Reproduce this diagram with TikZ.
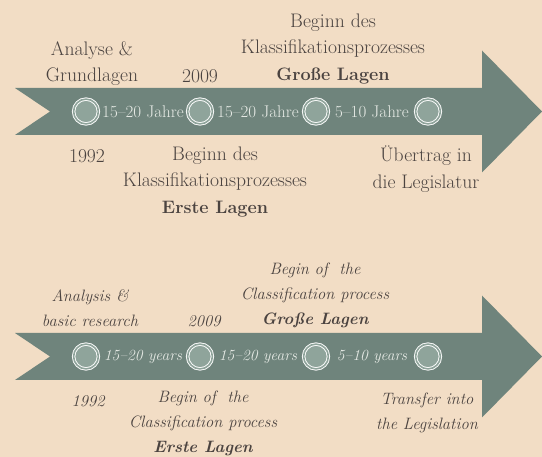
\documentclass[tikz,border=0pt]{standalone}
\usepackage{xcolor}
\usepackage{tikz}
\usetikzlibrary{calc,positioning}
\definecolor{bgbeige}{HTML}{F2DDC5}
\definecolor{arrowgreen}{HTML}{6F847C}
\definecolor{ringfill}{HTML}{8FA49B}
\definecolor{labelgray}{HTML}{4B4340}
\definecolor{barwhite}{HTML}{E6EAE5}
\newcommand{\boldline}[1]{{\fontsize{18}{26}\selectfont\bfseries #1}}
\newcommand{\boldlineit}[1]{{\fontsize{16.5}{25}\selectfont\bfseries #1}}
\tikzset{
  timearrow/.pic={
      \fill[arrowgreen]
      (15,-23.5) -- (482,-23.5) -- (482,-61) -- (542,0) -- (482,61)
      -- (482,23.5) -- (15,23.5) -- (50,0) -- cycle;
      \foreach \Val/\Pos in {1/86,2/200,3/316,4/428}
      \node[milestone] at (\Pos,0) (#1-\Val) {};
    },
  milestone/.style={
      circle,
      minimum size=24.8pt,
      inner sep=0pt,
      fill=ringfill,
      draw=white,
      line width=0.9pt,
      double=ringfill,
      double distance=1.6pt
    },
  lbl/.style={
      align=center,
      inner sep=0pt,
      text=labelgray,
      font=\fontsize{19.6}{26.5}\selectfont
    },
  lblit/.style={
      lbl,
      font=\fontsize{16.5}{25}\selectfont\itshape
    },
  bartext/.style={
      inner sep=0pt,
      text=barwhite,
      font=\fontsize{17}{20}\selectfont
    },
  bartextit/.style={
      bartext,
      font=\fontsize{15.5}{20}\selectfont\itshape
    }
}

\begin{document}
\begin{tikzpicture}[x=1pt,y=-1pt]
\fill[bgbeige] (0,0) rectangle (542,457);
\useasboundingbox (0,0) rectangle (542,457);
% the arrows
\path
  (0,111.5) pic {timearrow=de}
  (0,356.5) pic {timearrow=en};

% the spans on the bars
\node[bartext] (de-s1) at ($(de-1)!0.5!(de-2)$) {15--20 Jahre};
\node[bartext] (de-s2) at ($(de-2)!0.5!(de-3)$) {15--20 Jahre};
\node[bartext] (de-s3) at ($(de-3)!0.5!(de-4)$) {5--10 Jahre};
\node[bartextit] (en-s1) at ($(en-1)!0.5!(en-2)$) {15--20 years};
\node[bartextit] (en-s2) at ($(en-2)!0.5!(en-3)$) {15--20 years};
\node[bartextit] (en-s3) at ($(en-3)!0.5!(en-4)$) {5--10 years};

%the german labels
\node[lbl] at (92,63.5) (de-start) {Analyse \&\\Grundlagen};
\node[lbl] at (200,76) (de-y2009) {2009};
\node[lbl] at (333,49) (de-big)
  {Beginn des\\Klassifikationsprozesses\\\boldline{Große Lagen}};
\node[lbl] at (87,156) (de-y1992) {1992};
\node[lbl] at (215,182) (de-first)
  {Beginn des\\Klassifikationsprozesses\\\boldline{Erste Lagen}};
\node[lbl] at (426,169) (de-law) {Übertrag in\\die Legislatur};

%the english labels
\node[lblit] at (90,308.5) (en-start) {Analysis \&\\basic research};
\node[lblit] at (204,321) (en-y2009) {2009};
\node[lblit] at (315,295) (en-big)
  {Begin of\ \ the\\Classification process\\\boldlineit{Große Lagen}};
\node[lblit] at (88,401) (en-y1992) {1992};
\node[lblit] at (203,423) (en-first)
  {Begin of\ \ the\\Classification process\\\boldlineit{Erste Lagen}};
\node[lblit] at (427,413) (en-law) {Transfer into\\the Legislation};
\end{tikzpicture}
\end{document}
